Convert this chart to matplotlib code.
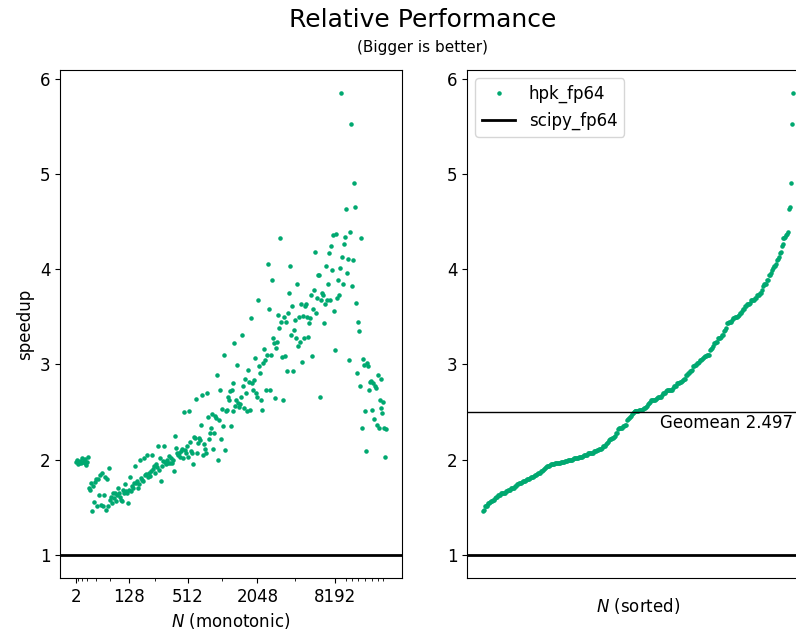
import matplotlib.pyplot as plt
import numpy as np

# speedup vs scipy, grouped by the power-of-two octave the size N falls in
n2 = [1.98, 2.00]
n4 = [1.95, 1.97, 1.99, 1.96]
n8 = [2.02, 1.98, 1.99, 1.97, 2.01, 1.94]
n16 = [1.98, 2.03, 1.70, 1.68, 1.75, 1.46, 1.72, 1.56, 1.77]
n32 = [1.80, 1.51, 1.80, 1.63, 1.84, 1.52, 1.86, 1.51, 1.63, 1.82, 1.47, 1.80, 1.51, 1.91]
n64 = [1.58, 1.61, 1.54, 1.65, 1.60, 1.65, 1.57, 1.63, 1.70, 1.65, 1.61, 1.58, 1.57,
       1.68, 1.65, 1.74, 1.67, 1.65, 1.55]
n128 = [1.68, 1.82, 1.67, 1.72, 1.70, 1.76, 1.93, 1.75, 1.78, 1.70, 1.74, 2.00, 1.81,
        1.79, 1.78, 2.02, 1.84, 1.85, 2.05, 1.82, 1.86, 1.83, 1.88, 2.05, 1.90, 1.93]
n256 = [1.86, 1.95, 1.92, 2.14, 1.89, 2.02, 1.78, 1.93, 1.99, 2.14, 1.98, 1.95, 2.00,
        1.96, 2.04, 1.97, 2.02, 1.97, 2.00, 1.88, 2.25, 2.12, 2.07, 2.05, 2.07, 2.03,
        2.09, 2.11, 2.02, 2.50, 2.10, 2.07, 2.14]
n512 = [2.03, 2.51, 2.19, 2.09, 2.07, 1.95, 2.24, 2.23, 2.64, 2.07, 2.18, 2.23, 2.21,
        2.36, 2.68, 2.05, 2.16, 2.11, 2.07, 2.70, 2.45, 2.22, 2.28, 2.33, 2.48, 2.11,
        2.28, 2.46, 2.44, 2.89, 2.00, 2.42, 2.73, 2.22]
n1024 = [2.53, 2.35, 3.10, 2.10, 2.51, 2.52, 2.66, 2.63, 2.72, 2.35, 2.73, 2.51, 2.80,
         3.22, 2.56, 2.63, 2.99, 2.59, 2.55, 2.58, 2.66, 3.31, 2.77, 2.54, 2.85, 2.70,
         2.51, 2.94, 2.82, 2.52, 3.49, 2.81, 2.73, 2.84, 3.07, 2.70]
n2048 = [2.66, 3.68, 2.98, 2.91, 2.63, 2.52, 3.01, 3.16, 3.05, 2.73, 3.10, 4.06, 3.58,
         2.73, 3.10, 3.89, 3.28, 3.22, 2.65, 3.17, 3.24, 3.52, 3.38, 4.33, 3.45, 3.08,
         2.63, 3.50, 3.09, 3.45, 2.93, 3.54, 3.75, 4.03, 3.31, 3.61, 2.93, 3.36]
n4096 = [3.47, 3.28, 3.84, 3.19, 3.50, 3.24, 3.64, 3.03, 3.51, 3.28, 3.61, 3.63, 3.50,
         3.29, 3.43, 3.49, 3.73, 3.09, 3.58, 3.78, 4.18, 3.54, 3.70, 3.94, 3.94, 2.66,
         3.68, 3.75, 3.73, 3.43, 3.63, 4.03, 3.68, 3.85, 4.17, 3.68, 4.24, 3.99, 4.36, 3.56]
n8192 = [3.15, 4.37, 3.70, 3.89, 3.73, 4.01, 5.85, 4.13, 3.85, 4.27, 4.34]
n16k = [4.63, 3.96, 4.11, 3.05, 4.39, 5.53]
n32k = [3.82, 4.10, 4.91, 4.65, 3.65, 2.91]
n64k = [3.45, 3.35, 2.77, 4.33, 2.33, 3.06, 2.99]
n128k = [2.51, 2.09, 3.01, 2.98, 2.73, 2.82, 2.83]
n256k = [2.52, 2.81, 2.43, 2.77, 2.75, 2.36]
n512k = [2.89, 2.33, 2.63, 2.54, 2.85, 2.49]
n1m = [2.61, 2.33, 2.03, 2.32]

octaves = [n2, n4, n8, n16, n32, n64, n128, n256, n512, n1024, n2048, n4096,
           n8192, n16k, n32k, n64k, n128k, n256k, n512k, n1m]
exps = list(range(1, 21))
major_labels = {1: '2', 7: '128', 9: '512', 11: '2048', 13: '8192'}
geomean = 2.497

speedup = np.concatenate(octaves)
rank = np.arange(len(speedup))
starts = np.cumsum([0] + [len(o) for o in octaves[:-1]])

green = '#00a870'
plt.rcParams['font.size'] = 12

fig, (ax1, ax2) = plt.subplots(1, 2, figsize=(7.96, 6.39), dpi=100)
fig.subplots_adjust(left=0.0754, right=1.0163, top=0.8905, bottom=0.0955, wspace=0.19)

fig.text(0.531, 0.969, 'Relative Performance', ha='center', va='center', fontsize=18)
fig.text(0.531, 0.926, '(Bigger is better)', ha='center', va='center', fontsize=11)

# left: in size order
ax1.plot(rank, speedup, '.', color=green, ms=4.5)
ax1.axhline(1, color='k', lw=2)
maj = [s for s, e in zip(starts, exps) if e in major_labels]
mino = [s for s, e in zip(starts, exps) if e not in major_labels]
ax1.set_xticks(maj)
ax1.set_xticklabels([major_labels[e] for e in exps if e in major_labels])
ax1.set_xticks(mino, minor=True)
ax1.set_xlabel('$N$ (monotonic)')
ax1.set_ylabel('speedup')

# right: sorted
ax2.plot(rank, np.sort(speedup), '.', color=green, ms=4.5, label='hpk_fp64')
ax2.axhline(1, color='k', lw=2, label='scipy_fp64')
ax2.axhline(geomean, color='k', lw=1)
ax2.text(rank[-1], geomean - 0.02, f'Geomean {geomean:.3f}', ha='right', va='top')
ax2.set_xticks([])
ax2.set_xlabel('$N$ (sorted)', labelpad=13)
ax2.legend(loc='upper left')

plt.savefig('out.png', dpi=100)
